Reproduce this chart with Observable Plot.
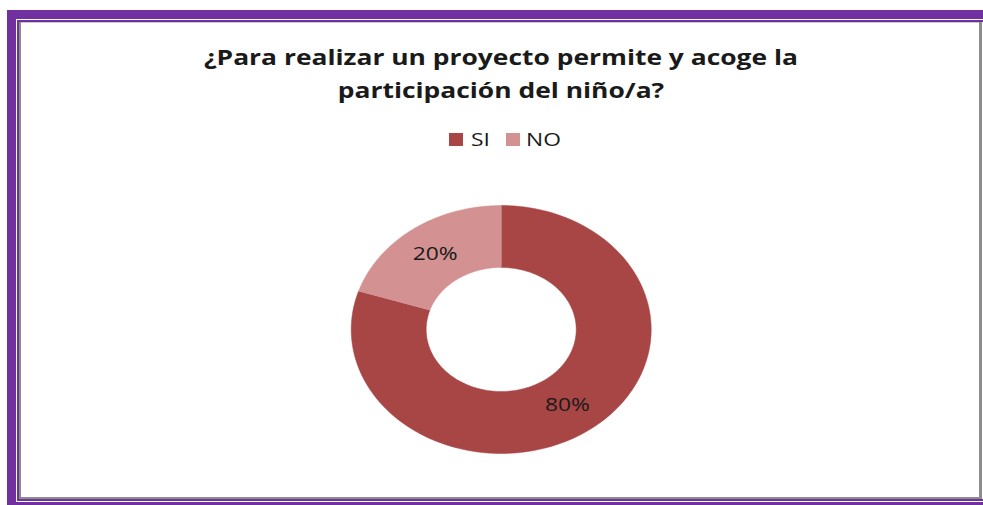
<!DOCTYPE html>
<html>
<head>
<meta charset="utf-8">
<script src="https://cdn.jsdelivr.net/npm/d3@7"></script>
<script src="https://cdn.jsdelivr.net/npm/@observablehq/plot@0.6"></script>
<style>
  html, body { margin: 0; padding: 0; background: #fff; }
  body { width: 983px; height: 505px; position: relative; overflow: hidden; font-family: "Open Sans", sans-serif; }
  .b { position: absolute; }
  #title { position: absolute; left: 0; width: 1002px; top: 40px; text-align: center; font-weight: bold; font-size: 22px; line-height: 33px; color: #1a1a1a; transform: scaleX(1.2); transform-origin: 501px 0; }
  #legend { position: absolute; top: 127px; left: 0; width: 983px; height: 24px; }
  .sw { position: absolute; top: 6px; width: 14px; height: 13px; }
  .lt { position: absolute; top: 0; font-size: 19px; line-height: 24px; color: #1a1a1a; transform: scaleX(1.2); transform-origin: 0 0; }
  #chart { position: absolute; left: 0; top: 0; }
</style>
</head>
<body>
<!-- frame -->
<div class="b" style="left:7px;top:10px;width:976px;height:9px;background:#7030A0"></div>
<div class="b" style="left:7px;top:10px;width:9px;height:495px;background:#7030A0"></div>
<div class="b" style="left:17px;top:20px;width:966px;height:2px;background:#7030A0"></div>
<div class="b" style="left:17px;top:20px;width:2px;height:480px;background:#7030A0"></div>
<div class="b" style="left:17px;top:499px;width:966px;height:2px;background:#7030A0"></div>
<div class="b" style="left:7px;top:502px;width:976px;height:3px;background:#7030A0"></div>
<div class="b" style="left:19px;top:22px;width:963px;height:1px;background:#c8c8c8"></div>
<div class="b" style="left:19px;top:22px;width:2px;height:477px;background:#8c8c8c"></div>
<div class="b" style="left:979px;top:22px;width:3px;height:477px;background:#8c8c8c"></div>
<div class="b" style="left:19px;top:497px;width:963px;height:2px;background:#8c8c8c"></div>

<div id="chart"></div>
<div id="title">¿Para realizar un proyecto permite y acoge la<br>participación del niño/a?</div>
<div id="legend"></div>

<script>
const categories = ["SI", "NO"];
const values = [80, 20];
const labels = ["80%", "20%"];
const colors = ["#A84545", "#D39291"];

// legend
const legend = document.getElementById("legend");
const legendPos = [{sw: 449, tx: 471}, {sw: 506, tx: 526}];
categories.forEach((c, i) => {
  const s = document.createElement("div");
  s.className = "sw"; s.style.left = legendPos[i].sw + "px"; s.style.background = colors[i];
  legend.appendChild(s);
  const t = document.createElement("div");
  t.className = "lt"; t.style.left = legendPos[i].tx + "px"; t.textContent = c;
  legend.appendChild(t);
});

// donut geometry in unit space (clockwise from top)
const pie = d3.pie().sort(null).value(d => d.value);
const arcs = pie(categories.map((c, i) => ({key: c, value: values[i], label: labels[i]})));
const inner = 0.5, outer = 1;
const pt = (a, r) => ({x: r * Math.sin(a), y: r * Math.cos(a)});
const slices = arcs.map(a => {
  const n = 160, pts = [];
  for (let k = 0; k <= n; k++) { const t = a.startAngle + (a.endAngle - a.startAngle) * k / n; pts.push({...pt(t, outer), key: a.data.key}); }
  for (let k = n; k >= 0; k--) { const t = a.startAngle + (a.endAngle - a.startAngle) * k / n; pts.push({...pt(t, inner), key: a.data.key}); }
  return pts;
});
const centroids = arcs.map(a => {
  const m = (a.startAngle + a.endAngle) / 2;
  return {...pt(m, (inner + outer) / 2), label: a.data.label};
});

const plot = Plot.plot({
  width: 983,
  height: 505,
  marginLeft: 350.7,
  marginRight: 332.3,
  marginTop: 205,
  marginBottom: 52,
  x: {domain: [-1, 1], axis: null},
  y: {domain: [-1, 1], axis: null},
  style: {background: "transparent", overflow: "visible"},
  marks: [
    ...slices.map((s, i) => Plot.line(s, {x: "x", y: "y", fill: colors[i], stroke: colors[i], strokeWidth: 0.5, curve: "linear"})),
    Plot.text(centroids, {x: "x", y: "y", text: "label", fontSize: 19, fontFamily: "Open Sans", fill: "#1a1a1a"})
  ]
});
// horizontal stretch of the labels, as in the reference
d3.select(plot).selectAll("text").each(function () {
  const tr = this.getAttribute("transform");
  if (tr) this.setAttribute("transform", tr + " scale(1.2,1)");
  else {
    const x = +this.getAttribute("x") || 0, y = +this.getAttribute("y") || 0;
    this.removeAttribute("x"); this.removeAttribute("y");
    this.setAttribute("transform", `translate(${x},${y}) scale(1.2,1)`);
  }
});
document.getElementById("chart").appendChild(plot);
</script>
</body>
</html>
